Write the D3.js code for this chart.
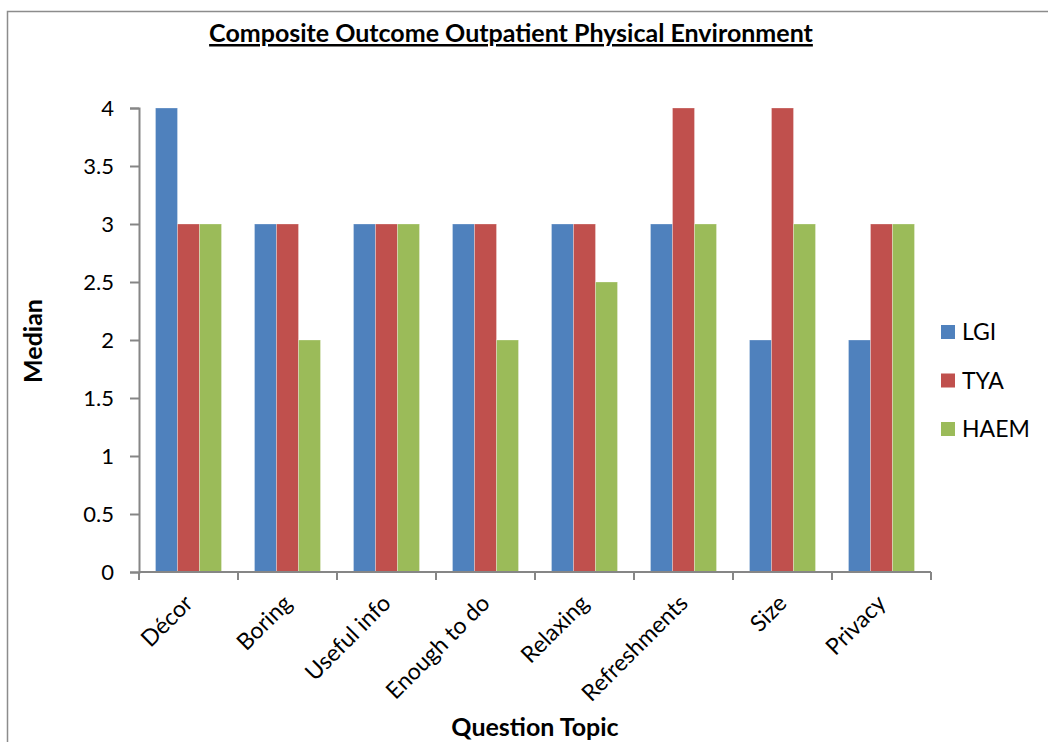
<!DOCTYPE html>
<html>
<head>
<meta charset="utf-8">
<script src="https://cdn.jsdelivr.net/npm/d3@7"></script>
<style>
  html, body { margin: 0; padding: 0; background: #fff; }
  svg { display: block; font-family: Lato, "Open Sans", sans-serif; }
</style>
</head>
<body>
<svg id="chart" width="1048" height="742"></svg>
<script>
// Median scores per question topic, one array per clinic
const categories = ["Décor", "Boring", "Useful info", "Enough to do", "Relaxing", "Refreshments", "Size", "Privacy"];
const seriesNames = ["LGI", "TYA", "HAEM"];
const lgi  = [4, 3, 3, 3, 3, 3, 2, 2];
const tya  = [3, 3, 3, 3, 3, 4, 4, 3];
const haem = [3, 2, 3, 2, 2.5, 3, 3, 3];
const yTicks = [0, 0.5, 1, 1.5, 2, 2.5, 3, 3.5, 4];
const colors = ["#4F81BD", "#C0504D", "#9BBB59"];

const titleText = "Composite Outcome Outpatient Physical Environment";
const xTitle = "Question Topic";
const yTitle = "Median";

const svg = d3.select("#chart");
const W = 1048, H = 742;

// outer frame of the chart area
svg.append("rect")
  .attr("x", 7.5).attr("y", 11.5)
  .attr("width", W + 20).attr("height", H + 20)
  .attr("fill", "#fff")
  .attr("stroke", "#8c8c8c").attr("stroke-width", 1.5);

const plot = { left: 139, right: 931, top: 108, bottom: 572 };

const x0 = d3.scaleBand().domain(categories).range([plot.left, plot.right]).padding(0);
const x1 = d3.scaleBand().domain(seriesNames)
  .range([x0.bandwidth() / 6, x0.bandwidth() * 5 / 6]).padding(0);
const y = d3.scaleLinear().domain([0, 4]).range([plot.bottom, plot.top]);

const rows = categories.map((c, i) => ({
  category: c,
  values: [lgi[i], tya[i], haem[i]].map((v, k) => ({ key: seriesNames[k], value: v, color: colors[k] }))
}));

// bars
const groups = svg.append("g").selectAll("g").data(rows).join("g")
  .attr("transform", d => `translate(${x0(d.category)},0)`);
groups.selectAll("rect").data(d => d.values).join("rect")
  .attr("x", d => x1(d.key))
  .attr("y", d => y(d.value))
  .attr("width", x1.bandwidth())
  .attr("height", d => y(0) - y(d.value))
  .attr("fill", d => d.color)
  .attr("stroke", "rgba(255,255,255,0.35)")
  .attr("stroke-width", 0.8);

const axisColor = "#868686";

// y axis
const yAxis = svg.append("g")
  .attr("transform", `translate(${plot.left},0)`)
  .call(d3.axisLeft(y).tickValues(yTicks).tickSize(9).tickPadding(16)
    .tickFormat(d => String(d)));
yAxis.select(".domain").attr("stroke", axisColor).attr("stroke-width", 2);
yAxis.selectAll(".tick line").attr("stroke", axisColor).attr("stroke-width", 2);
yAxis.selectAll(".tick text")
  .attr("fill", "#000").attr("font-size", 22).attr("font-family", "Lato, sans-serif");

// x axis: boundary ticks between categories
const boundaries = d3.range(categories.length + 1).map(i => plot.left + i * x0.step());
const xAxisG = svg.append("g");
xAxisG.append("line")
  .attr("x1", plot.left).attr("x2", plot.right)
  .attr("y1", plot.bottom).attr("y2", plot.bottom)
  .attr("stroke", axisColor).attr("stroke-width", 2);
xAxisG.selectAll("line.tick").data(boundaries).join("line")
  .attr("class", "tick")
  .attr("x1", d => d).attr("x2", d => d)
  .attr("y1", plot.bottom).attr("y2", plot.bottom + 8)
  .attr("stroke", axisColor).attr("stroke-width", 2);

// rotated category labels
xAxisG.selectAll("text").data(categories).join("text")
  .attr("transform", d => `translate(${x0(d) + x0.bandwidth() / 2},${plot.bottom + 27}) rotate(-45)`)
  .attr("text-anchor", "end")
  .attr("dy", "0.35em")
  .attr("font-size", 23)
  .attr("fill", "#000")
  .text(d => d);

// title
svg.append("text")
  .attr("x", 511).attr("y", 42)
  .attr("text-anchor", "middle")
  .attr("font-size", 25).attr("font-weight", "bold")
  .attr("text-decoration", "underline")
  .attr("fill", "#000")
  .text(titleText);

// axis titles
svg.append("text")
  .attr("x", (plot.left + plot.right) / 2).attr("y", 736)
  .attr("text-anchor", "middle")
  .attr("font-size", 25).attr("font-weight", "bold")
  .attr("fill", "#000")
  .text(xTitle);

svg.append("text")
  .attr("transform", `translate(42,341) rotate(-90)`)
  .attr("text-anchor", "middle")
  .attr("font-size", 25).attr("font-weight", "bold")
  .attr("fill", "#000")
  .text(yTitle);

// legend
const legend = svg.append("g").selectAll("g").data(seriesNames).join("g")
  .attr("transform", (d, i) => `translate(941,${332 + i * 48.5})`);
legend.append("rect")
  .attr("x", 0).attr("y", -7).attr("width", 14).attr("height", 14)
  .attr("fill", (d, i) => colors[i]);
legend.append("text")
  .attr("x", 21).attr("y", 0).attr("dy", "0.35em")
  .attr("font-size", 23).attr("fill", "#000")
  .text(d => d);
</script>
</body>
</html>
